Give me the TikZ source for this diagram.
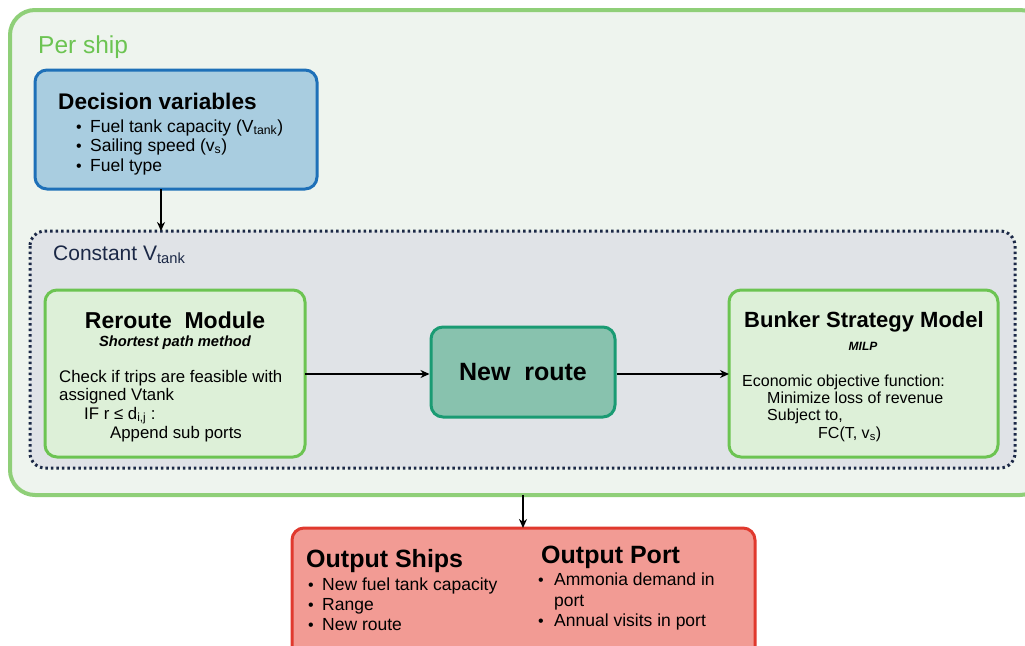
\documentclass[tikz,border=0pt]{standalone}
\usepackage{fontspec}
\setmainfont{Liberation Sans}
\usetikzlibrary{arrows.meta}
\definecolor{outerfill}{RGB}{238,244,238}
\definecolor{outerline}{RGB}{143,207,120}
\definecolor{pership}{RGB}{108,196,82}
\definecolor{decfill}{RGB}{169,205,224}
\definecolor{decline}{RGB}{30,112,184}
\definecolor{constfill}{RGB}{224,227,231}
\definecolor{constline}{RGB}{27,40,70}
\definecolor{modfill}{RGB}{221,240,216}
\definecolor{modline}{RGB}{108,196,82}
\definecolor{routefill}{RGB}{136,194,174}
\definecolor{routeline}{RGB}{26,155,115}
\definecolor{outfill}{RGB}{242,155,148}
\definecolor{outline}{RGB}{224,57,46}
\tikzset{
  box/.style={line width=3pt, rounded corners=12pt},
  txt/.style={anchor=base west, inner sep=0pt, font=\fontsize{17.5}{20}\selectfont},
  rtxt/.style={anchor=base west, inner sep=0pt, font=\fontsize{16.8}{19}\selectfont},
  btxt/.style={anchor=base west, inner sep=0pt, font=\fontsize{16}{19}\selectfont},
  title/.style={anchor=base, inner sep=0pt, font=\fontsize{22.5}{26}\selectfont\bfseries},
  bul/.style={anchor=base west, inner sep=0pt, font=\fontsize{16}{18}\selectfont},
  conn/.style={line width=1.6pt, -{Stealth[length=9pt,width=8pt]}},
}
\begin{document}
\begin{tikzpicture}[x=1pt,y=-1pt]
\useasboundingbox (0,0) rectangle (1025,645);
\clip (0,0) rectangle (1025,645);
% outer per-ship box
\draw[outerline, fill=outerfill, line width=4pt, rounded corners=25pt] (10,10) rectangle (1045,495);
\node[anchor=base west, inner sep=0pt, text=pership, font=\fontsize{24.5}{28}\selectfont] (pership) at (38,53) {Per ship};
\coordinate (outerbot) at (523,495);
% decision variables
\draw[box, decline, fill=decfill] (35,70) rectangle (317,189);
\coordinate (decbot) at (161,189);
\node[anchor=base west, inner sep=0pt, font=\fontsize{22.6}{26}\selectfont\bfseries] (dectitle) at (58,109) {Decision variables};
\node[bul] (d1b) at (76,132) {\textbullet};
\node[txt] (d1) at (90,132) {Fuel tank capacity (V\textsubscript{tank})};
\node[bul] (d2b) at (76,151) {\textbullet};
\node[txt] (d2) at (90,151) {Sailing speed (v\textsubscript{s})};
\node[bul] (d3b) at (76,171) {\textbullet};
\node[txt] (d3) at (90,171) {Fuel type};
% constant V tank
\draw[constline, fill=constfill, line width=3pt, dash pattern=on 2.5pt off 3pt, rounded corners=15pt] (30,231) rectangle (1015,468);
\coordinate (consttop) at (161,231);
\node[anchor=base west, inner sep=0pt, text=constline, font=\fontsize{21}{24}\selectfont] (const) at (53,260) {Constant V\textsubscript{tank}};
% reroute module
\draw[box, modline, fill=modfill] (45,290) rectangle (305,457);
\coordinate (rerR) at (305,374);
\node[title, font=\fontsize{23}{26}\selectfont\bfseries] (rertitle) at (175,328) {Reroute\ \ Module};
\node[anchor=base, inner sep=0pt, font=\fontsize{14.7}{17}\selectfont\bfseries\itshape] (rersub) at (175,346) {Shortest path method};
\node[rtxt] (r1) at (59,382) {Check if trips are feasible with};
\node[rtxt] (r2) at (59,400) {assigned Vtank};
\node[rtxt] (r3) at (84,419) {IF r ≤ d\textsubscript{i,j} :};
\node[rtxt] (r4) at (110,438) {Append sub ports};
% new route
\node[box, draw=routeline, fill=routefill, text=black, minimum width=184pt, minimum height=90pt, inner sep=0pt, font=\fontsize{25}{28}\selectfont\bfseries] (route) at (523,372) {New\ \ route};
% bunker strategy model
\draw[box, modline, fill=modfill] (729,290) rectangle (998,457);
\coordinate (bunL) at (729,374);
\node[title, font=\fontsize{22}{26}\selectfont\bfseries] (buntitle) at (864,327) {Bunker Strategy Model};
\node[anchor=base, inner sep=0pt, font=\fontsize{12}{14}\selectfont\bfseries\itshape] (bunsub) at (863,350) {MILP};
\node[btxt] (b1) at (742,386) {Economic objective function:};
\node[btxt] (b2) at (767,403) {Minimize loss of revenue};
\node[btxt] (b3) at (767,420) {Subject to,};
\node[btxt] (b4) at (818,438) {FC(T, v\textsubscript{s})};
% output
\draw[box, outline, fill=outfill] (292,528) rectangle (755,660);
\coordinate (outtop) at (523,528);
\node[anchor=base west, inner sep=0pt, font=\fontsize{25}{28}\selectfont\bfseries] (oships) at (306,567) {Output Ships};
\node[bul] (o1b) at (308,590) {\textbullet};
\node[txt] (o1) at (322,590) {New fuel tank capacity};
\node[bul] (o2b) at (308,610) {\textbullet};
\node[txt] (o2) at (322,610) {Range};
\node[bul] (o3b) at (308,630) {\textbullet};
\node[txt] (o3) at (322,630) {New route};
\node[anchor=base west, inner sep=0pt, font=\fontsize{25}{28}\selectfont\bfseries] (oport) at (541,563) {Output Port};
\node[bul] (p1b) at (538,585) {\textbullet};
\node[txt] (p1) at (554,585) {Ammonia demand in};
\node[txt] (p1c) at (554,606) {port};
\node[bul] (p2b) at (538,626) {\textbullet};
\node[txt] (p2) at (554,626) {Annual visits in port};
% connectors
\draw[conn] (decbot) -- (consttop);
\draw[conn] (rerR) -- (rerR -| route.west);
\draw[conn] (route.east |- bunL) -- (bunL);
\draw[conn] (outerbot) -- (outtop);
\end{tikzpicture}
\end{document}
